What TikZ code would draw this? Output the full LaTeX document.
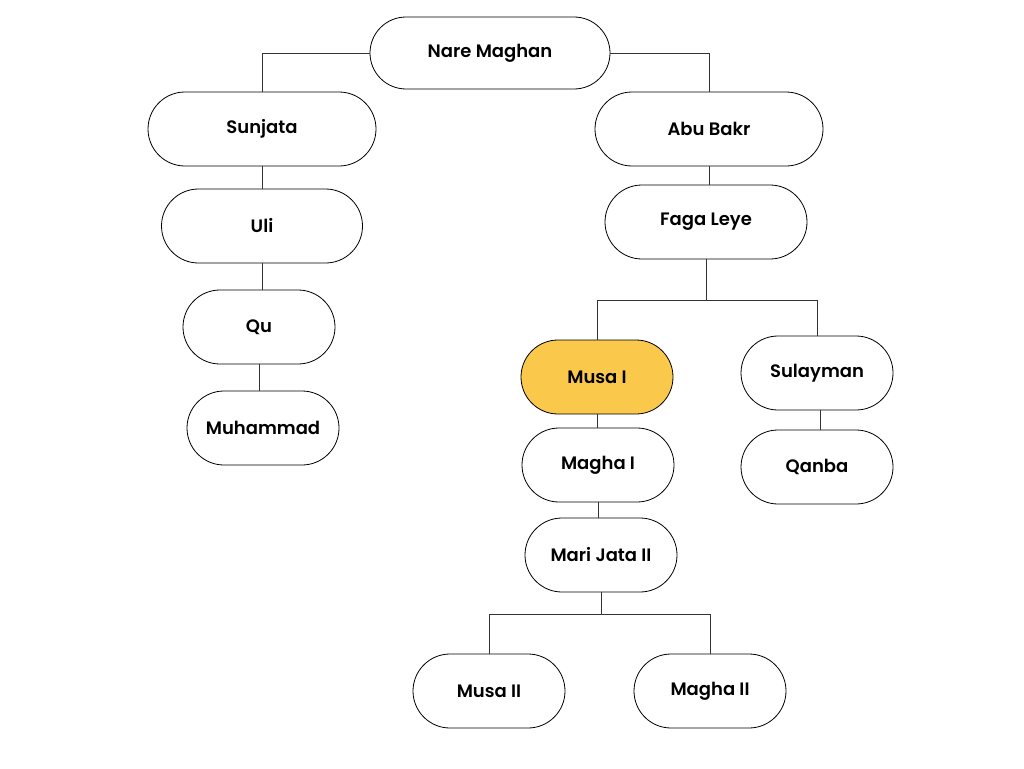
\documentclass[tikz,border=0pt]{standalone}
\usepackage{fontspec}
\setmainfont{Poppins}[BoldFont={Poppins SemiBold}]
\begin{document}
\begin{tikzpicture}[x=1pt,y=-1pt,
  person/.style={draw=black, line width=0.8pt, rounded corners=37pt, minimum height=74pt, font=\fontsize{18}{21}\selectfont\bfseries, fill=white},
  link/.style={draw=black!80, line width=0.7pt}]
\useasboundingbox (0,0) rectangle (1024,768);
\node[person, minimum width=240pt, minimum height=72pt, rounded corners=36pt] (nm) at (490,53) {Nare Maghan};
\node[person, minimum width=228pt] (sun) at (262,129) {Sunjata};
\node[person, minimum width=228pt] (ab) at (709,129) {Abu Bakr};
\node[person, minimum width=201pt] (uli) at (262,226) {Uli};
\node[person, minimum width=202pt] (fl) at (706,222) {Faga Leye};
\node[person, minimum width=152pt] (qu) at (259,327) {Qu};
\node[person, minimum width=152pt] (muh) at (263,428) {Muhammad};
\node[person, minimum width=152pt, fill={rgb,255:red,250;green,200;blue,75}] (musa) at (597,377) {Musa I};
\node[person, minimum width=152pt] (sul) at (817,373) {Sulayman};
\node[person, minimum width=152pt] (m1) at (598,465) {Magha I};
\node[person, minimum width=152pt] (qan) at (817,467) {Qanba};
\node[person, minimum width=152pt] (mj) at (601,555) {Mari Jata II};
\node[person, minimum width=152pt] (mu2) at (489,691) {Musa II};
\node[person, minimum width=152pt] (mg2) at (710,691) {Magha II};
\draw[link] (nm.west) -| (sun.north);
\draw[link] (nm.east) -| (ab.north);
\draw[link] (sun.south) -- (uli.north);
\draw[link] (uli.south) -- (uli.south |- qu.north);
\draw[link] (qu.south) -- (qu.south |- muh.north);
\draw[link] (ab.south) -- (ab.south |- fl.north);
\draw[link] (fl.south) -- ++(0,41) coordinate (j1);
\draw[link] (j1) -| (musa.north);
\draw[link] (j1) -| (sul.north);
\draw[link] (musa.south) -- (musa.south |- m1.north);
\draw[link] (m1.south) -- (m1.south |- mj.north);
\draw[link] ([xshift=3pt]sul.south) -- ([xshift=3pt]sul.south |- qan.north);
\draw[link] (mj.south) -- ++(0,22) coordinate (j2);
\draw[link] (j2) -| (mu2.north);
\draw[link] (j2) -| (mg2.north);
\end{tikzpicture}
\end{document}
